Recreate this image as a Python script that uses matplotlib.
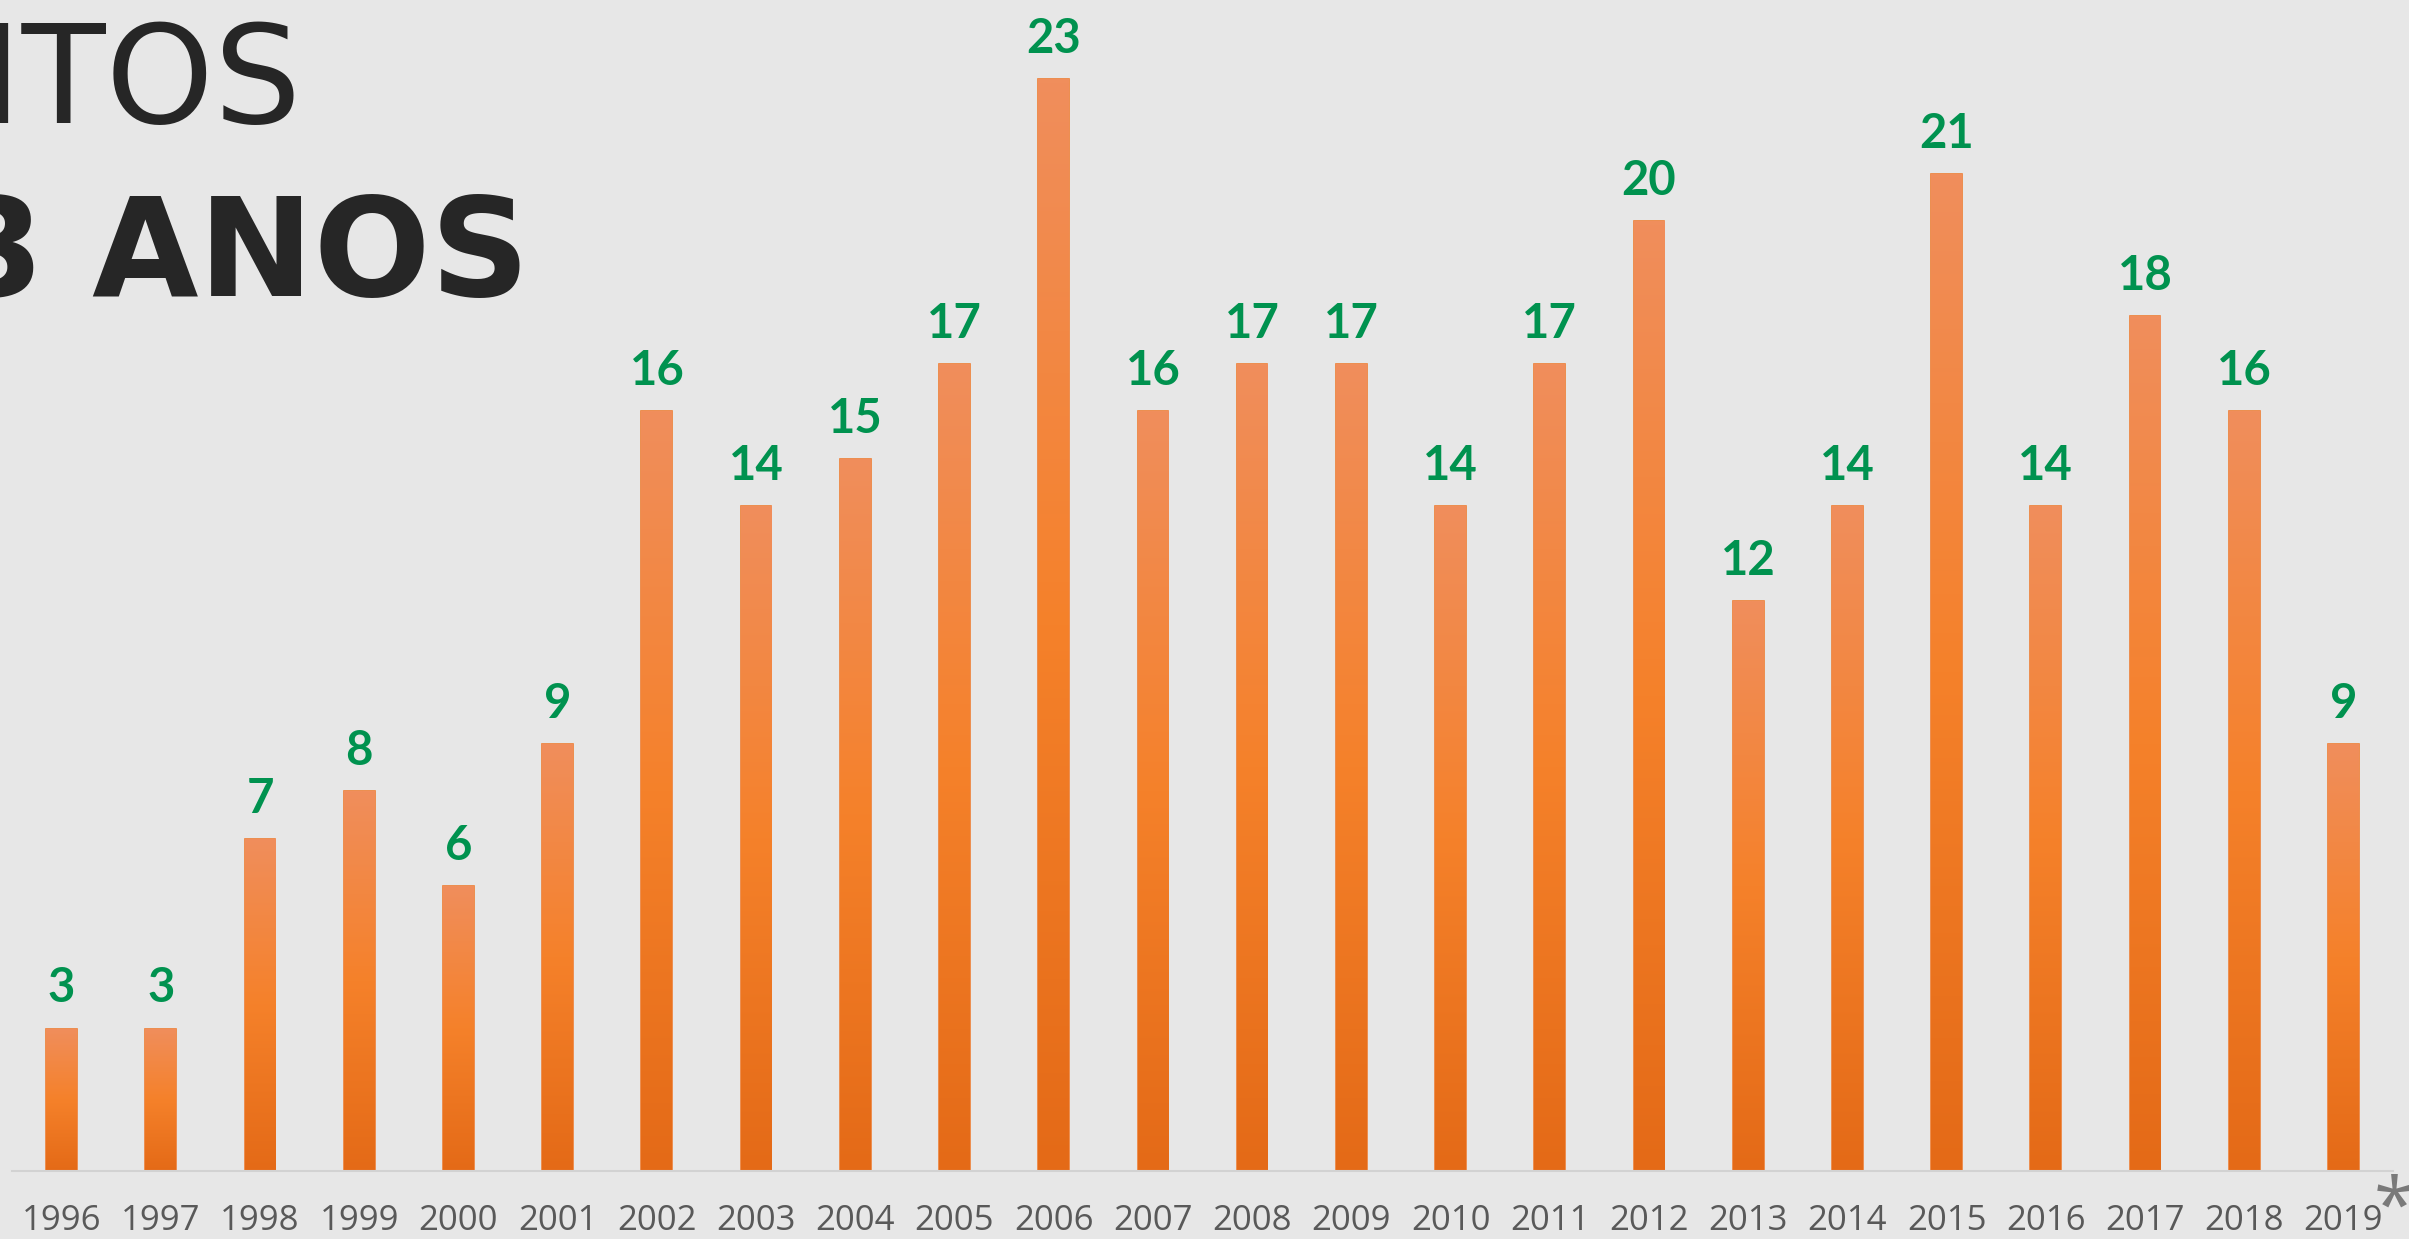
import numpy as np
import matplotlib
matplotlib.use('Agg')
import matplotlib.pyplot as plt
from matplotlib.colors import LinearSegmentedColormap

anos = [str(a) for a in range(1996, 2020)]
valores = [3, 3, 7, 8, 6, 9, 16, 14, 15, 17, 23, 16, 17, 17, 14, 17, 20, 12, 14, 21, 14, 18, 16, 9]
titulo_1 = 'FEITOS'
titulo_2 = 'EM 23 ANOS'

BG = '#E7E7E7'
VERDE = '#00924F'
grad = LinearSegmentedColormap.from_list('laranja', ['#E46A17', '#F5812A', '#F08E5C'])

fig = plt.figure(figsize=(24.09, 12.39), dpi=100, facecolor=BG)
ax = fig.add_axes([12/2409, (1239-1171)/1239, (2393-12)/2409, 1171/1239])
ax.set_facecolor(BG)

x = np.arange(len(anos))
ytop = 23 * 1171 / 1092
ax.set_xlim(-0.5, len(anos) - 0.5)
ax.set_ylim(0, ytop)

bars = ax.bar(x, valores, width=0.31, color='#F5812A', edgecolor='#EE7E33', linewidth=1.2, zorder=2)

# degradê vertical em cada barra
g = np.linspace(0, 1, 256).reshape(-1, 1)
for b, v in zip(bars, valores):
    x0 = b.get_x()
    im = ax.imshow(g, cmap=grad, origin='lower', aspect='auto',
                   extent=(x0, x0 + b.get_width(), 0, v), zorder=2.5)
    im.set_clip_path(b)
    ax.text(b.get_x() + b.get_width()/2, v + 0.55, str(v), ha='center', va='baseline',
            fontsize=34, fontweight='bold', color=VERDE, family=['Lato', 'DejaVu Sans'])

for s in ['top', 'right', 'left']:
    ax.spines[s].set_visible(False)
ax.spines['bottom'].set_color('#D2D2D2')
ax.spines['bottom'].set_linewidth(1.5)
ax.set_yticks([])
ax.set_xticks(x)
ax.set_xticklabels(anos, fontsize=25, color='#595959', family=['Open Sans', 'DejaVu Sans'])
ax.tick_params(axis='x', length=0, pad=24)

# asterisco do ano 2019
fig.text(2394/2409, 1-1174/1239, '*', ha='center', va='top', fontsize=54,
         color='#7A7A7A', family=['Open Sans', 'DejaVu Sans'])

# título cortado à esquerda
fig.text(302/2409, 1-123/1239, titulo_1, ha='right', va='baseline', fontsize=99,
         color='#262626', family=['DejaVu Sans'], fontweight='normal')
fig.text(530/2409, 1-296/1239, titulo_2, ha='right', va='baseline', fontsize=99,
         color='#262626', family=['DejaVu Sans'], fontweight='bold')

fig.savefig('out.png', dpi=100, facecolor=BG)
